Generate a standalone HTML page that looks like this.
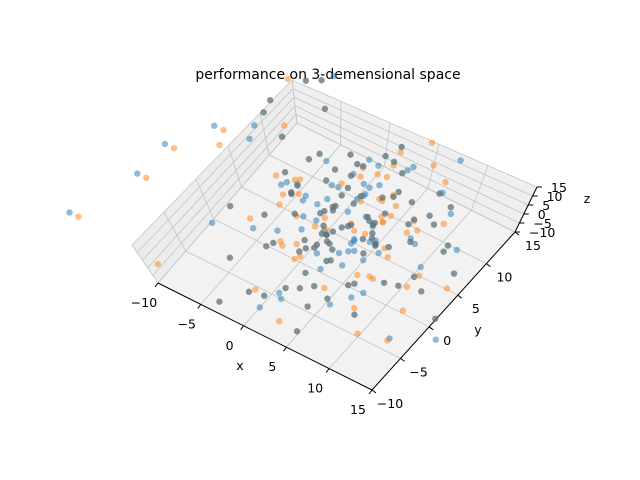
<!DOCTYPE html>
<html><head><meta charset="utf-8"><style>
body{margin:0;background:#fff}
svg{display:block;font-family:"DejaVu Sans","Liberation Sans",sans-serif}
</style></head><body>
<svg id="chart" width="640" height="480" xmlns="http://www.w3.org/2000/svg">
<rect width="640" height="480" fill="#fff"/>
<text x="328" y="79" font-size="14" text-anchor="middle">performance on 3-demensional space</text>
<g id="panes"></g><g id="grid"></g><g id="axes"></g><g id="points"></g>
</svg>
<script>
const xTicks=[-10,-5,0,5,10,15];
const yTicks=[-10,-5,0,5,10,15];
const zTicks=[-10,-5,0,5,10,15];
const grayX=[2,-1,4,7,0,3,-4,5,9,1,-2,6,3,11,-6,2,4,0,8,-3, 1,5,-1,3,10,-5,2,6,-2,4,13,0,3,7,-8,1,5,-3,9,2, 4,-1,6,0,3,12,-4,2,8,1,-7,5,3,-2,10,0,6,2,-10,4, 3,7,-3,1,5,14,-1,2,9,-5,4,0,6,-12,3,8,1,-2,11,5, 0,2,-6,4,7,1,-3,3,15,5,-9,2,6,0,4,-1,8,3,-14,1];
const grayY=[3,6,0,8,4,-2,10,5,1,7,12,-4,3,9,14,2,-1,6,11,4, 0,5,9,-3,7,2,13,4,-6,8,1,15,6,-1,10,3,-8,5,12,2, 7,-2,4,10,1,6,-5,9,3,16,0,5,-9,8,2,11,4,-3,17,6, 1,9,4,-1,12,5,8,2,-4,6,10,3,-7,14,0,7,5,-10,3,9, 6,0,11,3,-2,8,4,13,1,7,18,-5,2,9,5,-3,10,4,15,0];
const grayZ=[2,-5,8,0,4,-9,6,1,-3,10,3,-1,7,-6,12,0,5,-2,9,-4, 1,6,-7,3,11,-2,5,0,-10,8,2,-4,14,-1,6,3,-8,9,0,4, -3,7,1,10,-5,4,2,-12,8,0,6,-2,13,3,-6,5,1,-9,7,2, 5,-1,9,3,-7,0,12,4,-3,8,1,-11,6,2,15,-4,7,0,-2,10, 0,4,-6,11,2,-3,8,1,-9,5,6,-1,3,7,-5,9,0,4,-14,6];
const blueX=[6,-2,3,9,1,-4,5,2,12,-1,4,7,0,-8,3,10,2,-3,5,1, -11,4,2,8,-1,3,6,0,-5,13,2,5,-2,7,1,-13,4,9,3,0, 5,1,-3,8,2,-6,4,11,0,3,-1,6,16,2,-9,5,1,7,-4,3, -20,-17,-14,-18,-2,7];
const blueY=[4,8,-1,6,2,11,5,-6,9,3,1,14,7,-2,4,10,-9,6,2,12, 10,3,7,-1,5,9,2,12,6,-4,8,0,4,16,3,11,-2,5,7,1, 2,10,5,-3,8,1,13,4,6,-7,11,3,0,9,20,2,7,-5,4,14, -8,4,8,0,0,3];
const blueZ=[3,-8,7,1,10,-2,5,0,-6,13,2,-4,8,1,-11,6,3,-1,9,4, 5,0,6,-4,3,9,-1,5,2,-7,11,1,-3,7,0,-12,4,8,-2,6, 2,-5,10,1,4,-9,7,0,13,3,-2,6,-15,5,1,8,-4,2,11,-1, 0,2,5,-3,4,2];
const orangeX=[-3,6,1,9,-7,4,2,12,-1,5,0,8,-4,3,14,2,-10,6,1,7, 4,-2,10,0,3,-6,7,2,11,-1,5,-12,3,8,0,4,-3,13,1,6, 0,9,-5,2,6,-1,4,15,3,-8,7,1,-2,10,5,-4,2,8,-11,3, -19,-16,-13,-17,-1,8];
const orangeY=[5,1,9,-4,7,3,12,0,6,15,-2,8,4,10,-6,2,13,5,-1,9, 8,3,-5,11,6,1,14,-3,4,9,2,17,-8,6,0,10,4,-2,12,7, 3,-1,8,13,5,-6,10,2,7,-10,4,16,1,9,-3,6,11,0,5,18, -8,4,8,0,-1,3];
const orangeZ=[4,-6,9,1,-3,12,0,6,-9,3,8,-1,5,-13,2,7,-4,10,0,-2, 6,1,-8,4,11,-3,2,9,-5,0,14,3,-7,5,1,-10,8,2,-1,12, 0,7,-4,3,10,-6,2,5,-12,8,1,-3,16,4,-1,6,-9,2,13,0, 0,2,5,-3,4,2];
const CL=[158,283],CF=[372,390],CR=[515,232],CB=[297,123];
const ZL=[-26,-38],ZF=[0,-41],ZR=[22,-45],ZB=[-5,-43];
function bil(a,b,c,d,u,v){return [0,1].map(k=>a[k]*(1-u)*(1-v)+b[k]*u*(1-v)+c[k]*u*v+d[k]*(1-u)*v);}
function P(x,y,z){const u=(x+10)/25,v=(y+10)/25,w=(z+10)/25;
 const b=bil(CL,CF,CR,CB,u,v),zv=bil(ZL,ZF,ZR,ZB,u,v);return [b[0]+w*zv[0],b[1]+w*zv[1]];}
const NS="http://www.w3.org/2000/svg";
function mk(t,a,p){const e=document.createElementNS(NS,t);for(const k in a)e.setAttribute(k,a[k]);p.appendChild(e);return e;}
const panes=document.getElementById('panes'),grid=document.getElementById('grid'),axes=document.getElementById('axes'),pts=document.getElementById('points');
function poly(c){return c.map(p=>p.join(',')).join(' ');}
let e;
e=mk('polygon',{points:poly([P(-10,-10,-10),P(15,-10,-10),P(15,15,-10),P(-10,15,-10)]),fill:'#f2f2f2'},panes);

e=mk('polygon',{points:poly([P(-10,-10,-10),P(-10,15,-10),P(-10,15,15),P(-10,-10,15)]),fill:'#ececec'},panes);

e=mk('polygon',{points:poly([P(-10,15,-10),P(15,15,-10),P(15,15,15),P(-10,15,15)]),fill:'#efefef'},panes);

function line(a,b,st,w,name,par){const l=mk('line',{x1:a[0],y1:a[1],x2:b[0],y2:b[1],stroke:st,'stroke-width':w},par);}
xTicks.forEach(t=>{line(P(t,-10,-10),P(t,15,-10),'#c4c4c4',0.8,'x-grid-line',grid);line(P(t,15,-10),P(t,15,15),'#c4c4c4',0.8,'x-grid-line',grid);});
yTicks.forEach(t=>{line(P(-10,t,-10),P(15,t,-10),'#c4c4c4',0.8,'y-grid-line',grid);line(P(-10,t,-10),P(-10,t,15),'#c4c4c4',0.8,'y-grid-line',grid);});
zTicks.forEach(t=>{line(P(-10,-10,t),P(-10,15,t),'#c4c4c4',0.8,'z-grid-line',grid);line(P(-10,15,t),P(15,15,t),'#c4c4c4',0.8,'z-grid-line',grid);});
line(P(-10,-10,-10),P(15,-10,-10),'#000',1,'x-axis-line',axes);
line(P(15,-10,-10),P(15,15,-10),'#000',1,'y-axis-line',axes);
line(P(15,15,-10),P(15,15,15),'#000',1,'z-axis-line',axes);
function txt(s,p,name,anchor){const t=mk('text',{x:p[0],y:p[1],'font-size':12.5,'text-anchor':anchor||'middle'},axes);t.textContent=s;}
xTicks.forEach(t=>{const p=P(t,-10,-10);line(p,[p[0]-3,p[1]+4],'#000',1,'x-tick',axes);txt(String(t).replace('-','\u2212'),[p[0]-14,p[1]+24],'x-tick-label');});
yTicks.forEach(t=>{const p=P(15,t,-10);line(p,[p[0]+4,p[1]+3],'#000',1,'y-tick',axes);txt(String(t).replace('-','\u2212'),[p[0]+18,p[1]+18],'y-tick-label');});
zTicks.forEach(t=>{const p=P(15,15,t);line(p,[p[0]+5,p[1]],'#000',1,'z-tick',axes);txt(String(t).replace('-','\u2212'),[p[0]+14,p[1]+5],'z-tick-label','start');});
txt('x',[240,370],'x-axis-title');txt('y',[478,334],'y-axis-title');txt('z',[587,203],'z-axis-title');
function scatter(X,Y,Z,col,op,name){for(let i=0;i<X.length;i++){const p=P(X[i],Y[i],Z[i]);const c=mk('circle',{cx:p[0],cy:p[1],r:3.2,fill:col,'fill-opacity':op},pts);

}}
scatter(blueX,blueY,blueZ,'#1f77b4',0.5,'blue-point');
scatter(orangeX,orangeY,orangeZ,'#ff7f0e',0.5,'orange-point');
scatter(grayX,grayY,grayZ,'#5e7178',0.75,'gray-point');
</script>
</body></html>
